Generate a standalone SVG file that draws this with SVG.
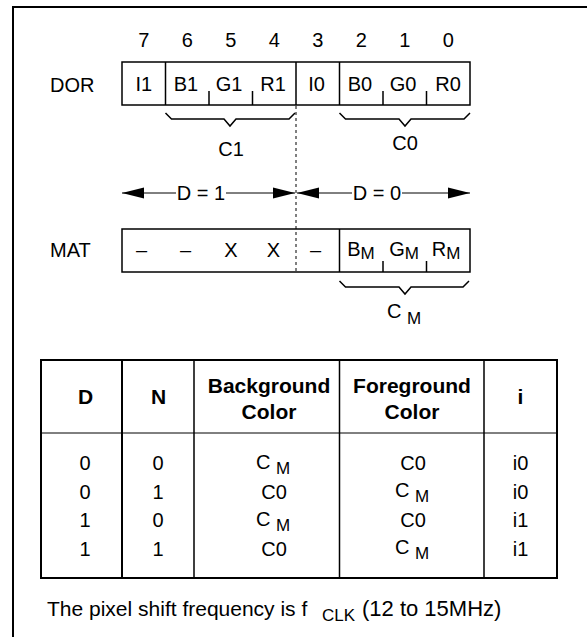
<svg xmlns="http://www.w3.org/2000/svg" width="587" height="637" viewBox="0 0 587 637">
<defs>
<style>
text{font-family:"Liberation Sans",Arial,sans-serif;font-size:20px;fill:#000}
.m{text-anchor:middle}
.b{font-weight:bold;font-size:21px}
.sub{font-size:17px}
.ln{stroke:#000;stroke-width:1.5;fill:none}
.thk{stroke:#000;stroke-width:2;fill:none}
.thin{stroke:#000;stroke-width:1;fill:none}
.dot{stroke:#000;stroke-width:1;stroke-dasharray:3 3;fill:none}
</style>
<marker id="ah" markerUnits="userSpaceOnUse" markerWidth="22" markerHeight="12" refX="22" refY="6" orient="auto">
<path d="M0,0.5 L22,6 L0,11.5 z" fill="#000"/>
</marker>
</defs>
<rect width="587" height="637" fill="#fff"/>
<path class="thk" d="M13,637 L13,7 L587,7"/>

<g id="bits">
<text class="m" x="143.75" y="47">7</text>
<text class="m" x="187.25" y="47">6</text>
<text class="m" x="230.75" y="47">5</text>
<text class="m" x="274.25" y="47">4</text>
<text class="m" x="317.75" y="47">3</text>
<text class="m" x="361.25" y="47">2</text>
<text class="m" x="404.75" y="47">1</text>
<text class="m" x="448.25" y="47">0</text>
</g>

<g id="dor">
<text x="50" y="91.5">DOR</text>
<rect class="ln" x="122" y="62" width="348" height="43"/>
<path class="ln" d="M165.5,62 V105 M296,62 V105 M339.5,62 V105 M209,91 V105 M252.5,91 V105 M383,91 V105 M426.5,91 V105"/>
<text class="m" x="143.75" y="91">I1</text>
<text class="m" x="186" y="91">B1</text>
<text class="m" x="229" y="91">G1</text>
<text class="m" x="273" y="91">R1</text>
<text class="m" x="316.5" y="91">I0</text>
<text class="m" x="360" y="91">B0</text>
<text class="m" x="403" y="91">G0</text>
<text class="m" x="448" y="91">R0</text>
</g>

<g id="c1">
<path class="ln" d="M165.5,113 L171.5,119 L224,119 L230,126 L236,119 L289,119 L295,113"/>
<text class="m" x="231" y="156">C1</text>
</g>

<g id="c0">
<path class="ln" d="M339.5,113 L345.5,119 L399,119 L405,126 L411,119 L464,119 L470,113"/>
<text class="m" x="405" y="150">C0</text>
</g>

<g id="mat">
<text x="50" y="257">MAT</text>
<rect class="ln" x="122" y="229" width="348" height="43"/>
<path class="ln" d="M339.5,229 V272 M383,261 V272 M426.5,261 V272"/>
<text class="m" x="141.5" y="257">–</text>
<text class="m" x="185.5" y="257">–</text>
<text class="m" x="231" y="257">X</text>
<text class="m" x="273.5" y="257">X</text>
<text class="m" x="315.5" y="257">–</text>
<text class="m" x="361" y="256">B<tspan class="sub" dy="3">M</tspan></text>
<text class="m" x="404" y="256">G<tspan class="sub" dy="3">M</tspan></text>
<text class="m" x="446" y="256">R<tspan class="sub" dy="3">M</tspan></text>
</g>

<g id="cm">
<path class="ln" d="M339.5,281 L345.5,287 L399,287 L405,294 L411,287 L463,287 L469,281"/>
<text class="m" x="404" y="318">C <tspan class="sub" dy="6">M</tspan></text>
</g>

<g id="connectors">
<line class="dot" x1="296" y1="106" x2="296" y2="272"/>
<line class="thin" x1="176" y1="193" x2="122" y2="193" marker-end="url(#ah)"/>
<line class="thin" x1="226" y1="193" x2="295" y2="193" marker-end="url(#ah)"/>
<line class="thin" x1="352" y1="193" x2="297" y2="193" marker-end="url(#ah)"/>
<line class="thin" x1="402" y1="193" x2="470" y2="193" marker-end="url(#ah)"/>
<text class="m" x="201" y="200">D = 1</text>
<text class="m" x="377" y="200">D = 0</text>
</g>

<g id="table">
<rect class="thk" x="41" y="360" width="516" height="218"/>
<path class="thk" d="M122,360 V578"/>
<path class="ln" d="M194,360 V578 M339.5,360 V578 M484,360 V578"/>
<path class="thin" d="M41,433 H557"/>
<text class="m b" x="85.5" y="404">D</text>
<text class="m b" x="158.5" y="404">N</text>
<text class="m b" x="269" y="393">Background</text>
<text class="m b" x="269" y="419">Color</text>
<text class="m b" x="412" y="393">Foreground</text>
<text class="m b" x="412" y="419">Color</text>
<text class="m b" x="520.5" y="404">i</text>

<text class="m" x="85" y="470">0</text>
<text class="m" x="158" y="470">0</text>
<text class="m" x="273" y="469">C <tspan class="sub" dy="5">M</tspan></text>
<text class="m" x="413" y="470">C0</text>
<text class="m" x="520.5" y="470">i0</text>

<text class="m" x="85" y="499">0</text>
<text class="m" x="158" y="499">1</text>
<text class="m" x="274" y="499">C0</text>
<text class="m" x="412" y="497">C <tspan class="sub" dy="5">M</tspan></text>
<text class="m" x="520.5" y="499">i0</text>

<text class="m" x="85" y="527">1</text>
<text class="m" x="158" y="527">0</text>
<text class="m" x="273" y="526">C <tspan class="sub" dy="5">M</tspan></text>
<text class="m" x="413" y="527">C0</text>
<text class="m" x="520.5" y="527">i1</text>

<text class="m" x="85" y="556">1</text>
<text class="m" x="158" y="556">1</text>
<text class="m" x="274" y="556">C0</text>
<text class="m" x="412" y="554">C <tspan class="sub" dy="5">M</tspan></text>
<text class="m" x="520.5" y="556">i1</text>
</g>

<g id="note">
<text x="47" y="616" style="font-size:21px">The pixel shift frequency is f <tspan class="sub" x="322" dy="5">CLK</tspan><tspan x="362" dy="-5" style="font-size:22px">(12 to 15MHz)</tspan></text>
</g>
</svg>
